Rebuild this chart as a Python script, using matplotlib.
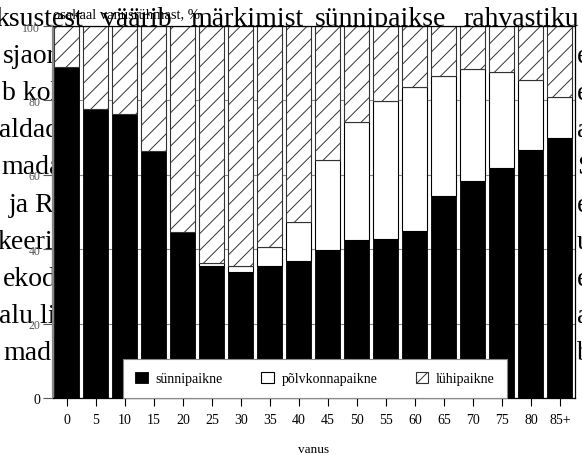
import numpy as np
import matplotlib
matplotlib.use('Agg')
import matplotlib.pyplot as plt

plt.rcParams['font.family'] = ['Liberation Serif', 'DejaVu Serif']
plt.rcParams['hatch.linewidth'] = 0.7

vanus = ['0', '5', '10', '15', '20', '25', '30', '35', '40', '45',
         '50', '55', '60', '65', '70', '75', '80', '85+']
synnipaikne = [89.0, 77.7, 76.3, 66.4, 44.6, 35.6, 33.9, 35.5, 36.9,
               39.8, 42.5, 42.7, 44.9, 54.3, 58.3, 61.8, 66.7, 69.9]
polvkonnapaikne = [0.0, 0.0, 0.0, 0.0, 0.0, 0.7, 1.6, 5.1, 10.4,
                   24.2, 31.7, 37.1, 38.7, 32.3, 30.1, 25.8, 18.8, 11.0]
luhipaikne = [11.0, 22.3, 23.7, 33.6, 55.4, 63.7, 64.5, 59.4, 52.7,
              36.0, 25.8, 20.2, 16.4, 13.4, 11.6, 12.4, 14.5, 19.1]

# taustal olev lõigu tekst, mis paistab graafiku tagant
rida1 = ['ksustest', 'väärib', 'märkimist', 'sünnipaikse', 'rahvastiku']
vasak = ['sjaorud', 'b kohta', 'valdades', 'madal', 'ja Riia',
         'keerises', 'ekodu', 'alu liikumine', 'madalam']
parem = ['e', 'e', 'a', 'S', 'e', 'u', 'e', 'a', 'b']

W, H = 582, 456
fig = plt.figure(figsize=(W / 100, H / 100), dpi=100)


def px(x, y):
    return x / W, 1 - y / H


rida1_x = [-5, 102, 190, 315, 463]
vasak_x = [3, 2, -15, 1, 9, -2, 3, -1, 3]
for sona, x in zip(rida1, rida1_x):
    fig.text(*px(x, 26), sona, fontsize=20, va='baseline', ha='left', zorder=-5)
for i, (v, p) in enumerate(zip(vasak, parem)):
    y = 26 + 37.1 * (i + 1)
    fig.text(*px(vasak_x[i], y), v, fontsize=20, va='baseline', ha='left', zorder=-5)
    fig.text(*px(577, y), p, fontsize=20, va='baseline', ha='left', zorder=-5)

ax = fig.add_axes([53 / W, 1 - 399 / H, 522 / W, 372 / H])
ax.set_facecolor('white')

x = np.arange(len(vanus))
laius = 0.86
ax.bar(x, synnipaikne, laius, color='black', edgecolor='black',
       linewidth=0.6, label='sünnipaikne')
ax.bar(x, polvkonnapaikne, laius, bottom=synnipaikne, color='white',
       edgecolor='black', linewidth=0.8, label='põlvkonnapaikne')
alus = np.array(synnipaikne) + np.array(polvkonnapaikne)
ax.bar(x, luhipaikne, laius, bottom=alus, color='white',
       edgecolor='#333333', linewidth=0.8, hatch='//', label='lühipaikne')

ax.set_xlim(-0.48, 17.52)
ax.set_ylim(0, 100)
ax.set_xticks(x)
ax.set_xticklabels(vanus, fontsize=10)
ax.set_yticks([0, 20, 40, 60, 80, 100])
ax.tick_params(axis='y', direction='out', length=7.2, width=0.8,
               colors='#555555', labelsize=8.5, pad=2)
ax.tick_params(axis='x', direction='out', length=5.8, width=0.8, pad=5)
nulli = ax.get_yticklabels()[0]
nulli.set_color('black')
nulli.set_fontsize(10)
ax.yaxis.get_major_ticks()[0].tick1line.set_color('black')
ax.grid(axis='y', color='#888888', linewidth=0.8)
ax.set_axisbelow(True)

ax.spines['left'].set_color('#888888')
ax.spines['left'].set_linewidth(1.6)
for s in ['top', 'right', 'bottom']:
    ax.spines[s].set_color('black')
    ax.spines[s].set_linewidth(0.9)

ax.set_xlabel('vanus', fontsize=9.5, labelpad=12)
fig.text(*px(53, 18), 'osakaal vanusrühmast, %', fontsize=10.5,
         va='baseline', ha='left')

leg = ax.legend(loc='lower left', bbox_to_anchor=(0.134, 0.0, 0.736, 0.105),
                mode='expand', ncol=3, fontsize=10, borderaxespad=0,
                borderpad=0.9, handlelength=0.9, handleheight=0.9,
                handletextpad=0.55, fancybox=False, framealpha=1,
                edgecolor='#888888')
leg.get_frame().set_linewidth(0.8)

fig.savefig('out.png', dpi=100, facecolor='white')
